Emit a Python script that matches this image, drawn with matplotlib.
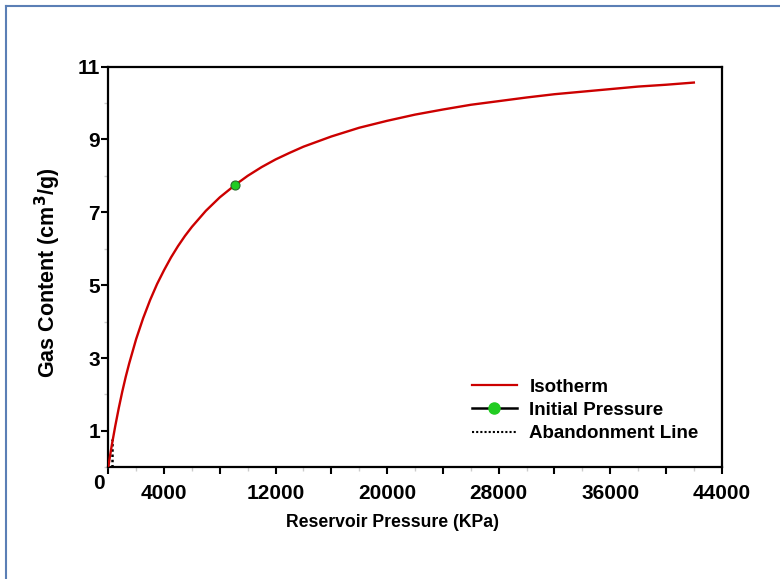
import matplotlib
matplotlib.use("Agg")
import matplotlib.pyplot as plt
from matplotlib.lines import Line2D
from matplotlib.ticker import FixedLocator, FuncFormatter, MultipleLocator

plt.rcParams['font.family'] = ['Liberation Sans', 'DejaVu Sans']
plt.rcParams['font.weight'] = 'bold'

# Isotherm
pressure = [0, 100, 250, 500, 750, 1000, 1250, 1500, 2000, 2500, 3000, 3500, 4000,
            4500, 5000, 5500, 6000, 7000, 8000, 9100, 10000, 11000, 12000, 13000,
            14000, 16000, 18000, 20000, 22000, 24000, 26000, 28000, 30000, 32000,
            34000, 36000, 38000, 40000, 42000]
gas_content = [0.0, 0.25, 0.60, 1.13, 1.62, 2.07, 2.48, 2.85, 3.52, 4.09, 4.59, 5.03,
               5.41, 5.76, 6.07, 6.35, 6.60, 7.04, 7.41, 7.75, 8.00, 8.24, 8.45, 8.63,
               8.80, 9.08, 9.32, 9.51, 9.68, 9.82, 9.95, 10.05, 10.15, 10.24, 10.31,
               10.38, 10.45, 10.50, 10.56]

initial_pressure = [9100]
initial_gas = [7.75]

abandon_pressure = [300, 300]
abandon_gas = [0.0, 0.78]

x_major = [0, 4000, 8000, 12000, 16000, 20000, 24000, 28000, 32000, 36000, 40000, 44000]
x_labelled = [4000, 12000, 20000, 28000, 36000, 44000]
y_major = [1, 3, 5, 7, 9, 11]

fig = plt.figure(figsize=(7.8, 5.79), dpi=100)
ax = fig.add_axes([0.1388, 0.1929, 0.9253 - 0.1388, 0.8851 - 0.1929])

ax.plot(pressure, gas_content, color='#CC0000', lw=1.7, label='Isotherm', zorder=3,
        solid_joinstyle='round')
ax.plot(abandon_pressure, abandon_gas, color='black', lw=1.8, ls=(0, (1, 1.1)), zorder=2)
ax.plot(initial_pressure, initial_gas, ls='none', marker='o', ms=6.5,
        mfc='#22CC22', mec='#2a6a2a', mew=0.8, zorder=4)

ax.set_xlim(0, 44000)
ax.set_ylim(0, 11)

ax.xaxis.set_major_locator(FixedLocator(x_major))
ax.xaxis.set_minor_locator(MultipleLocator(2000))
ax.xaxis.set_major_formatter(FuncFormatter(lambda v, p: f"{int(v)}" if int(v) in x_labelled else ""))
ax.yaxis.set_major_locator(FixedLocator(y_major))
ax.yaxis.set_minor_locator(MultipleLocator(1))

ax.tick_params(axis='both', which='major', direction='out', length=5, width=1.5,
               labelsize=15, colors='black')
ax.tick_params(axis='x', which='major', pad=7)
ax.tick_params(axis='y', which='major', pad=1)
ax.tick_params(axis='both', which='minor', direction='out', length=3, width=1.0,
               color='#cccccc')
for lab in ax.get_xticklabels() + ax.get_yticklabels():
    lab.set_fontweight('bold')

for s in ax.spines.values():
    s.set_linewidth(1.6)

ax.text(-0.016, -0.04, "0", transform=ax.transAxes, ha='center', va='center',
        fontsize=15, fontweight='bold')

ax.set_xlabel("Reservoir Pressure (KPa)", fontsize=12.7, fontweight='bold')
ax.xaxis.set_label_coords((393 - 108.3) / 613.4, -(522 - 467.3) / 400.8)
ax.xaxis.label.set_va('center')

ax.set_ylabel("Gas Content (cm$^\\mathbf{3}$/g)", fontsize=15.5, fontweight='bold')
ax.yaxis.set_label_coords((48 - 108.3) / 613.4, (467.3 - 273) / 400.8)
ax.yaxis.label.set_va('center')
ax.yaxis.label.set_rotation_mode('anchor')

handles = [
    Line2D([], [], color='#CC0000', lw=1.6),
    Line2D([], [], color='black', lw=1.8, marker='o', ms=8, mfc='#22CC22', mec='#22CC22'),
    Line2D([], [], color='black', lw=1.5, ls=(0, (1, 1))),
]
labels = ['Isotherm', 'Initial Pressure', 'Abandonment Line']
ax.legend(handles, labels, loc='upper left', bbox_to_anchor=(464 / 780, 1 - 371 / 579),
          bbox_transform=fig.transFigure, frameon=False,
          prop={'weight': 'bold', 'size': 13.5}, handlelength=2.45, handletextpad=0.64,
          labelspacing=0.33, borderaxespad=0)

# figure border (blue frame)
fig.add_artist(Line2D([6 / 780, 6 / 780], [0, 1 - 6 / 579], transform=fig.transFigure,
                      color='#5B7FB5', lw=1.5))
fig.add_artist(Line2D([6 / 780, 1], [1 - 6 / 579, 1 - 6 / 579], transform=fig.transFigure,
                      color='#5B7FB5', lw=1.5))

fig.savefig("out.png", dpi=100)
